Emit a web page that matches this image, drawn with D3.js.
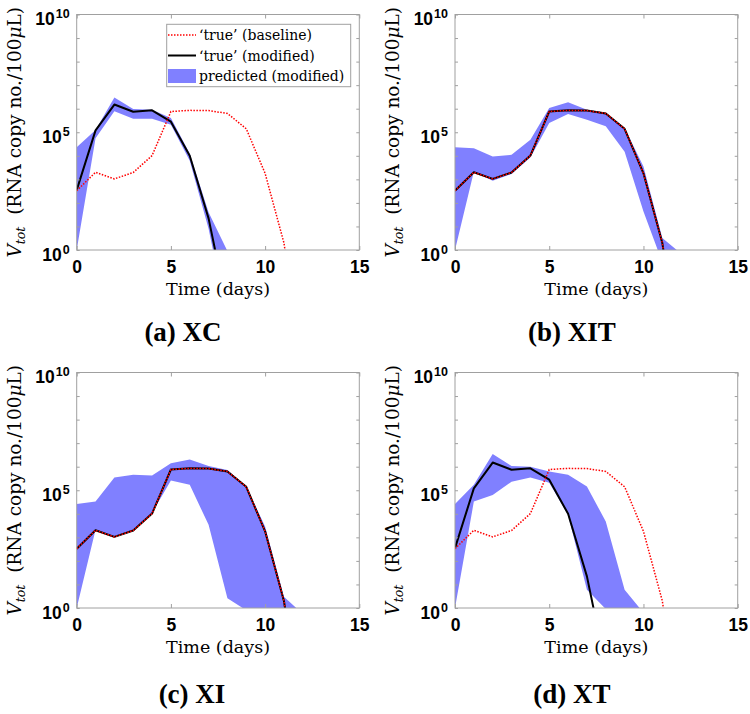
<!DOCTYPE html>
<html>
<head>
<meta charset="utf-8">
<script src="https://cdn.jsdelivr.net/npm/d3@7"></script>
<style>
  html, body { margin: 0; padding: 0; background: #fff; }
  svg { display: block; }
</style>
</head>
<body>
<svg id="chart" width="750" height="714"></svg>
<script>
// ---------------- DATA ----------------
const days = [0, 1, 2, 3, 4, 5, 6, 7, 8, 9, 10, 11, 12];

// 'true' (baseline) viral load, RNA copy no./100uL
const trueBaseline = [3.3e2, 2.0e3, 1.05e3, 1.95e3, 1.02e4, 7.6e5, 8.5e5, 8.3e5, 6.3e5, 1.4e5, 1.8e3, 2.0, 1e-5];
// 'true' (modified) for XC and XT (early-treatment trajectories)
const trueModifiedEarly = [3.5e2, 1.2e5, 1.5e6, 7.4e5, 8.5e5, 2.8e5, 1.0e4, 22, 3e-3];
// 'true' (modified) for XIT and XI coincides with the baseline
const trueModifiedLate = trueBaseline;

// predicted (modified) bands: upper / lower envelopes
const bandXCUpper  = [2.3e4, 1.26e5, 3.0e6, 9.8e5, 9.1e5, 4.0e5, 1.26e4, 40, 0.9];
const bandXCLower  = [1, 5.6e4, 7.8e5, 3.7e5, 3.7e5, 2.1e5, 6.2e3, 8, 1e-3];
const bandXITUpper = [2.3e4, 2.1e4, 9.3e3, 1.1e4, 4.8e4, 1.07e6, 1.9e6, 9.1e5, 6.6e5, 1.5e5, 3.5e3, 3.2, 0.7];
const bandXITLower = [1, 2.1e3, 8.7e2, 1.7e3, 8.5e3, 2.5e5, 5.9e5, 3.4e5, 1.8e5, 1.5e4, 43, 0.3, 1e-3];
const bandXIUpper  = [2.6e4, 3.3e4, 3.5e5, 4.5e5, 4.2e5, 1.4e6, 2.0e6, 1.07e6, 7.2e5, 1.45e5, 2.9e3, 3.0, 0.56];
const bandXILower  = [1, 2.1e3, 1.1e3, 2.1e3, 1.1e4, 2.6e5, 1.7e5, 3.4e3, 2.6, 0.8, 1e-2, 1e-3, 1e-3];
const bandXTUpper  = [2.6e4, 1.7e5, 3.5e6, 1.07e6, 1.0e6, 6.2e5, 4.5e5, 1.45e5, 4.7e3, 6.0, 0.63];
const bandXTLower  = [1, 3.3e4, 6.3e4, 2.3e5, 3.5e5, 2.1e5, 8.9e3, 6.0, 0.9, 1e-3, 1e-3];

const xTicks = [0, 5, 10, 15];
const yMajorTicks = [1, 1e5, 1e10];
const yMajorExponents = ["0", "5", "10"];
const yMinorTicks = [1, 1e1, 1e2, 1e3, 1e4, 1e5, 1e6, 1e7, 1e8, 1e9, 1e10];
const captions = ["(a) XC", "(b) XIT", "(c) XI", "(d) XT"];
const legendLabels = ["\u2018true\u2019 (baseline)", "\u2018true\u2019 (modified)", "predicted (modified)"];

// ---------------- LAYOUT ----------------
const panels = [
  { cap: captions[0], x0: 76.7, x1: 359.3, y0: 14.5, y1: 250, capX: 183, capY: 341,
    upper: bandXCUpper, lower: bandXCLower, modified: trueModifiedEarly, legend: true },
  { cap: captions[1], x0: 455, x1: 737.7, y0: 14.5, y1: 250, capX: 572, capY: 341,
    upper: bandXITUpper, lower: bandXITLower, modified: trueModifiedLate, legend: false },
  { cap: captions[2], x0: 76.7, x1: 359.3, y0: 372.5, y1: 608, capX: 192, capY: 703,
    upper: bandXIUpper, lower: bandXILower, modified: trueModifiedLate, legend: false },
  { cap: captions[3], x0: 455, x1: 737.7, y0: 372.5, y1: 608, capX: 572, capY: 703,
    upper: bandXTUpper, lower: bandXTLower, modified: trueModifiedEarly, legend: false }
];

const AXIS_GREY = "#a0a0a0";
const BAND = "#8080ff";
const RED = "#ff0000";
const svg = d3.select("#chart");

panels.forEach((p, i) => {
  const x = d3.scaleLinear().domain([0, 15]).range([p.x0, p.x1]);
  const y = d3.scaleLog().domain([1, 1e10]).range([p.y1, p.y0]);
  const g = svg.append("g");

  const clipId = "clip" + i;
  svg.append("clipPath").attr("id", clipId)
    .append("rect").attr("x", p.x0).attr("y", p.y0)
    .attr("width", p.x1 - p.x0).attr("height", p.y1 - p.y0);

  const plot = g.append("g").attr("clip-path", `url(#${clipId})`);

  // band
  const bandData = p.upper.map((u, k) => ({ t: days[k], u: u, l: p.lower[k] }));
  plot.append("path").datum(bandData)
    .attr("fill", BAND).attr("stroke", "none")
    .attr("d", d3.area().x(d => x(d.t)).y0(d => y(d.l)).y1(d => y(d.u)));

  const line = d3.line().x((d, k) => x(days[k])).y(d => y(d));

  // modified (black)
  plot.append("path").datum(p.modified)
    .attr("fill", "none").attr("stroke", "#000").attr("stroke-width", 2)
    .attr("stroke-linejoin", "round")
    .attr("d", line);

  // baseline (red dotted)
  plot.append("path").datum(trueBaseline)
    .attr("fill", "none").attr("stroke", RED).attr("stroke-width", 1.5)
    .attr("stroke-dasharray", "1.5,1.5")
    .attr("d", line);

  // box
  g.append("rect").attr("x", p.x0).attr("y", p.y0)
    .attr("width", p.x1 - p.x0).attr("height", p.y1 - p.y0)
    .attr("fill", "none").attr("stroke", AXIS_GREY).attr("stroke-width", 1);

  // x axis bottom
  const xb = g.append("g").attr("transform", `translate(0,${p.y1})`)
    .call(d3.axisBottom(x).tickValues(xTicks).tickSizeInner(-4).tickSizeOuter(0).tickPadding(11).tickFormat(d3.format("d")));
  xb.select(".domain").remove();
  xb.selectAll("line").attr("stroke", AXIS_GREY);
  xb.selectAll("text").attr("font-family", "'Liberation Sans', Arial, sans-serif")
    .attr("font-weight", "bold").attr("font-size", 17.5).attr("fill", "#000");
  // x axis top (ticks only)
  const xt = g.append("g").attr("transform", `translate(0,${p.y0})`)
    .call(d3.axisTop(x).tickValues(xTicks).tickSizeInner(-4).tickSizeOuter(0).tickFormat(""));
  xt.select(".domain").remove();
  xt.selectAll("line").attr("stroke", AXIS_GREY);

  // y minor ticks left/right
  const yl = g.append("g").attr("transform", `translate(${p.x0},0)`)
    .call(d3.axisLeft(y).tickValues(yMinorTicks).tickSizeInner(-3).tickSizeOuter(0).tickFormat(""));
  yl.select(".domain").remove();
  yl.selectAll("line").attr("stroke", AXIS_GREY);
  const yr = g.append("g").attr("transform", `translate(${p.x1},0)`)
    .call(d3.axisRight(y).tickValues(yMinorTicks).tickSizeInner(-3).tickSizeOuter(0).tickFormat(""));
  yr.select(".domain").remove();
  yr.selectAll("line").attr("stroke", AXIS_GREY);

  // y major labels
  const ym = g.append("g").attr("transform", `translate(${p.x0},0)`)
    .call(d3.axisLeft(y).tickValues(yMajorTicks).tickSizeInner(0).tickSizeOuter(0).tickPadding(7).tickFormat(() => "10"));
  ym.select(".domain").remove();
  ym.selectAll("line").remove();
  ym.selectAll("text")
    .attr("font-family", "'Liberation Sans', Arial, sans-serif")
    .attr("font-weight", "bold").attr("font-size", 17.5).attr("fill", "#000")
    .attr("dy", 10)
    .each(function(d) {
      d3.select(this).append("tspan").attr("font-size", 12.5).attr("dy", -7).attr("dx", 1)
        .text(yMajorExponents[yMajorTicks.indexOf(d)]);
    });

  // axis labels
  g.append("text")
    .attr("x", (p.x0 + p.x1) / 2).attr("y", p.y1 + 45)
    .attr("text-anchor", "middle")
    .attr("font-family", "'DejaVu Serif', serif").attr("font-size", 17.5)
    .text("Time (days)");

  const yLab = g.append("text")
    .attr("transform", `translate(${p.x0 - 56},${(p.y0 + p.y1) / 2}) rotate(-90)`)
    .attr("text-anchor", "middle")
    .attr("font-family", "'DejaVu Serif', serif").attr("font-size", 18.5);
  yLab.append("tspan").attr("font-style", "italic").text("V");
  yLab.append("tspan").attr("font-style", "italic").attr("font-size", 12.5).attr("dy", 4).text("tot");
  yLab.append("tspan").attr("dy", -4).text("\u00a0\u00a0(RNA copy no./100");
  yLab.append("tspan").attr("font-style", "italic").text("\u03bc");
  yLab.append("tspan").text("L)");

  // caption
  g.append("text")
    .attr("x", p.capX).attr("y", p.capY)
    .attr("text-anchor", "middle")
    .attr("font-family", "'Liberation Serif', 'Times New Roman', serif")
    .attr("font-weight", "bold").attr("font-size", 27)
    .text(p.cap);

  // legend
  if (p.legend) {
    const lg = g.append("g");
    lg.append("rect").attr("x", 166.7).attr("y", 24.3).attr("width", 184).attr("height", 62.4)
      .attr("fill", "#fff").attr("stroke", AXIS_GREY).attr("stroke-width", 1);
    const rows = [35, 55.5, 76];
    lg.append("line").attr("x1", 168).attr("x2", 196).attr("y1", rows[0]).attr("y2", rows[0])
      .attr("stroke", RED).attr("stroke-width", 1.5).attr("stroke-dasharray", "1.5,1.5");
    lg.append("line").attr("x1", 168).attr("x2", 196).attr("y1", rows[1]).attr("y2", rows[1])
      .attr("stroke", "#000").attr("stroke-width", 2);
    lg.append("rect").attr("x", 168).attr("y", rows[2] - 7).attr("width", 28).attr("height", 14)
      .attr("fill", BAND);
    legendLabels.forEach((t, k) => {
      lg.append("text").attr("x", 199).attr("y", rows[k] + 5)
        .attr("font-family", "'DejaVu Serif', serif").attr("font-size", 14)
        .text(t);
    });
  }
});
</script>
</body>
</html>
